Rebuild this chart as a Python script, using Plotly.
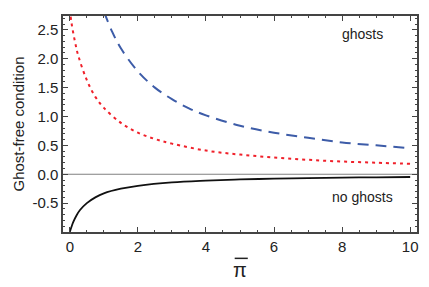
import plotly.graph_objects as go

# Black solid curve (no ghosts)
black_x = [0, 0.05, 0.1, 0.2, 0.3, 0.5, 0.75, 1, 1.5, 2, 3, 4, 5, 6, 7, 8, 9, 10]
black_y = [-1.0, -0.91, -0.83, -0.71, -0.62, -0.50, -0.40, -0.33, -0.25, -0.20, -0.14, -0.11, -0.09, -0.077, -0.067, -0.059, -0.053, -0.048]

# Red dotted curve
red_x = [0.0, 0.05, 0.15, 0.25, 0.5, 0.75, 1, 1.5, 2, 2.5, 3, 4, 5, 6, 7, 8, 9, 10]
red_y = [2.85, 2.62, 2.30, 2.05, 1.63, 1.34, 1.15, 0.89, 0.72, 0.61, 0.53, 0.41, 0.34, 0.29, 0.25, 0.22, 0.20, 0.18]

# Blue dashed curve
blue_x = [1.0, 1.25, 1.5, 2, 2.5, 3, 3.5, 4, 5, 6, 7, 8, 9, 10]
blue_y = [2.82, 2.46, 2.18, 1.78, 1.50, 1.30, 1.14, 1.02, 0.84, 0.72, 0.63, 0.55, 0.50, 0.45]

FONT = "Liberation Sans, Arial, sans-serif"

fig = go.Figure()
fig.add_trace(go.Scatter(x=[-0.2, 10.2], y=[0, 0], mode="lines",
                         line=dict(color="#808080", width=1.2), hoverinfo="skip"))
fig.add_trace(go.Scatter(x=blue_x, y=blue_y, mode="lines", line_shape="spline",
                         line=dict(color="#3d5ca8", width=2, dash="11px,7px")))
fig.add_trace(go.Scatter(x=red_x, y=red_y, mode="lines", line_shape="spline",
                         line=dict(color="#f0202a", width=2, dash="3px,4px")))
fig.add_trace(go.Scatter(x=black_x, y=black_y, mode="lines", line_shape="spline",
                         line=dict(color="#111111", width=1.8)))

axis_common = dict(
    showgrid=False, zeroline=False, showline=True, linecolor="#444444", linewidth=1.5,
    mirror="allticks", ticks="inside", ticklen=5, tickwidth=1, tickcolor="#444444",
    tickfont=dict(family=FONT, size=15, color="#222222"),
)

fig.update_xaxes(range=[-0.2, 10.2], tickvals=[0, 2, 4, 6, 8, 10], ticktext=["0", "2", "4", "6", "8", "10"],
                 minor=dict(dtick=0.5, tick0=0, ticks="inside", ticklen=2.5, tickcolor="#444444"),
                 **axis_common)
fig.update_yaxes(range=[-1.0, 2.74], tickvals=[-0.5, 0, 0.5, 1.0, 1.5, 2.0, 2.5],
                 ticktext=["-0.5", "0.0", "0.5", "1.0", "1.5", "2.0", "2.5"],
                 minor=dict(dtick=0.1, tick0=0, ticks="inside", ticklen=2.5, tickcolor="#444444"),
                 title=dict(text="Ghost-free condition", font=dict(family=FONT, size=15, color="#222222"), standoff=4),
                 **axis_common)

# x-axis title: pi with an overbar
fig.add_annotation(x=0.5, y=-0.175, xref="paper", yref="paper", text="π", showarrow=False,
                   font=dict(family=FONT, size=20, color="#222222"), yanchor="middle")
fig.add_shape(type="line", xref="paper", yref="paper", x0=0.485, x1=0.522, y0=-0.122, y1=-0.122,
              line=dict(color="#222222", width=1.5))

fig.add_annotation(x=8.6, y=2.42, text="ghosts", showarrow=False,
                   font=dict(family=FONT, size=14, color="#222222"))
fig.add_annotation(x=8.6, y=-0.39, text="no ghosts", showarrow=False,
                   font=dict(family=FONT, size=14, color="#222222"))

# page body has an 8px default margin: compensate so plot area lands at x 63..417, y 14..232
fig.update_layout(width=429, height=287, margin=dict(l=55, r=20, t=6, b=63),
                  paper_bgcolor="white", plot_bgcolor="white", showlegend=False)

fig.write_html("out.html")
